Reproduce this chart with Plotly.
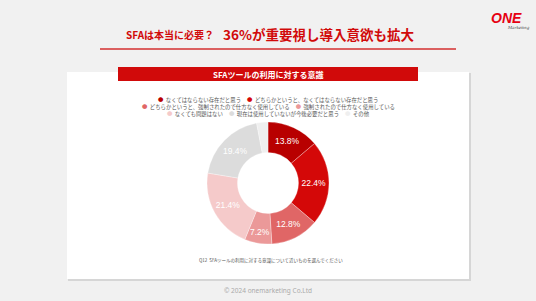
import plotly.graph_objects as go

labels = ["なくてはならない存在だと思う",
          "どちらかというと、なくてはならない存在だと思う",
          "どちらかというと、強制されたので仕方なく使用している",
          "強制されたので仕方なく使用している",
          "なくても問題はない",
          "現在は使用していないが今後必要だと思う",
          "その他"]
values = [13.8, 22.4, 12.8, 7.2, 21.4, 19.4, 3.0]
colors = ["#b80000", "#d40808", "#e06666", "#eb9999", "#f5caca", "#dcdcdc", "#efefef"]
legend_rows = [[0, 1], [2, 3], [4, 5, 6]]

W, H = 536, 301
def px(x): return x / W
def py(y): return 1 - y / H

FONT = "Noto Sans CJK JP"

texts = [f"{v}%" if v > 5 else "" for v in values]

fig = go.Figure(go.Pie(
    labels=labels, values=values, text=texts, textinfo="text",
    sort=False, direction="clockwise", rotation=0, hole=0.5,
    marker=dict(colors=colors, line=dict(color="white", width=0.3)),
    textfont=dict(color="white", size=8.5, family="Liberation Sans"),
    insidetextorientation="horizontal", textposition="inside",
    domain=dict(x=[px(207), px(329)], y=[py(244), py(122)]),
    showlegend=False, hoverinfo="label+percent",
))

shapes = [
    dict(type="rect", xref="paper", yref="paper", x0=px(68), x1=px(471), y0=py(281), y1=py(73),
         fillcolor="#d6d6d6", line=dict(width=0), layer="below"),
    dict(type="rect", xref="paper", yref="paper", x0=px(67), x1=px(469), y0=py(279), y1=py(72),
         fillcolor="white", line=dict(width=0), layer="below"),
    dict(type="rect", xref="paper", yref="paper", x0=px(118), x1=px(418), y0=py(81), y1=py(67),
         fillcolor="#d10a0a", line=dict(width=0)),
    dict(type="line", xref="paper", yref="paper", x0=px(100), x1=px(456), y0=py(49), y1=py(49),
         line=dict(color="#d32f2f", width=1.5)),
]

annotations = [
    dict(text="<b>SFAは本当に必要？</b>", x=px(124), y=py(35), xanchor="left", yanchor="middle",
         font=dict(size=10, color="#d10a0a", family=FONT)),
    dict(text="<b>36%が重要視し導入意欲も拡大</b>", x=px(221), y=py(34), xanchor="left", yanchor="middle",
         font=dict(size=13.5, color="#d10a0a", family=FONT)),
    dict(text="<b><i>ONE</i></b>", x=px(506), y=py(18), xanchor="center", yanchor="middle",
         font=dict(size=14, color="#e60012", family="Liberation Sans")),
    dict(text="<i>Marketing</i>", x=px(518), y=py(27), xanchor="center", yanchor="middle",
         font=dict(size=4, color="#444", family="DejaVu Serif")),
    dict(text="<b>SFAツールの利用に対する意識</b>", x=px(268), y=py(74), xanchor="center", yanchor="middle",
         font=dict(size=8, color="white", family=FONT)),
    dict(text="Q12  SFAツールの利用に対する意識について近いものを選んでください", x=px(197), y=py(260),
         xanchor="left", yanchor="middle", font=dict(size=4.5, color="#555", family=FONT)),
    dict(text="© 2024 onemarketing Co.Ltd", x=px(268), y=py(290), xanchor="center", yanchor="middle",
         font=dict(size=6.5, color="#aaaaaa", family="Noto Sans")),
]

row_y = [100, 107, 114]
for r, idxs in enumerate(legend_rows):
    parts = [f'<span style="color:{colors[i]}">●</span>  {labels[i]}' for i in idxs]
    annotations.append(dict(text="     ".join(parts), x=px(268), y=py(row_y[r]), xanchor="center",
                            yanchor="middle", font=dict(size=5.4, color="#555", family=FONT)))

for a in annotations:
    a.update(xref="paper", yref="paper", showarrow=False)

fig.update_layout(
    width=W, height=H, margin=dict(l=0, r=0, t=0, b=0),
    paper_bgcolor="#f1f1f1", plot_bgcolor="#f1f1f1",
    shapes=shapes, annotations=annotations,
)
fig.write_html("out.html")
